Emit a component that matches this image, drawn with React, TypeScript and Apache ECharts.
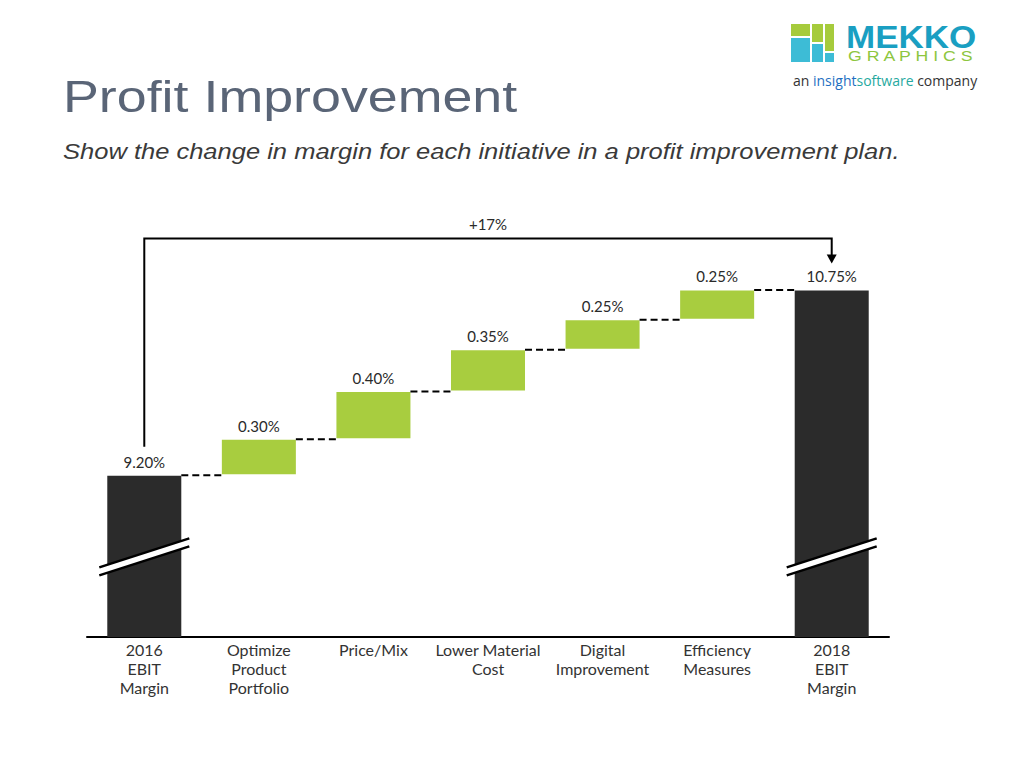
import React, { useEffect, useRef } from "react";
import * as echarts from "echarts";

// ---------- data ----------
const categories = [
  "2016\nEBIT\nMargin",
  "Optimize\nProduct\nPortfolio",
  "Price/Mix",
  "Lower Material\nCost",
  "Digital\nImprovement",
  "Efficiency\nMeasures",
  "2018\nEBIT\nMargin",
];
const startValue = 9.2;
const deltas = [0.3, 0.4, 0.35, 0.25, 0.25];
const endValue = 10.75;
const valueLabels = ["9.20%", "0.30%", "0.40%", "0.35%", "0.25%", "0.25%", "10.75%"];
const axisMin = 7.85;
const axisMax = 12;
const breakValue = 8.52;

const DARK = "#2b2b2b";
const GREEN = "#a8cd3f";
const FONT = "Lato";

export default function App() {
  const ref = useRef<HTMLDivElement>(null);

  useEffect(() => {
    document.body.style.margin = "0";
    if (!ref.current) return;
    const chart = echarts.init(ref.current, null, { renderer: "svg" });

    // build waterfall rows: [index, low, high, kind]
    const rows: any[] = [];
    rows.push([0, axisMin, startValue, 0]);
    let level = startValue;
    deltas.forEach((d, i) => {
      rows.push([i + 1, level, level + d, 1]);
      level += d;
    });
    rows.push([categories.length - 1, axisMin, endValue, 0]);

    const connectors = rows.slice(0, rows.length - 1).map((r) => [r[0], r[2]]);
    const breaks = [
      [0, breakValue],
      [categories.length - 1, breakValue],
    ];
    const pct = Math.round(((endValue - startValue) / startValue) * 100);
    const changeLabel = "+" + pct + "%";

    const barW = (api: any) => api.size([1, 0])[0] * 0.646;

    chart.setOption({
      animation: false,
      grid: { left: 87, right: 135, top: 141, bottom: 131 },
      xAxis: {
        type: "category",
        data: categories,
        axisLine: { lineStyle: { color: "#000", width: 2 } },
        axisTick: { show: false },
        axisLabel: {
          color: "#333",
          fontFamily: FONT,
          fontSize: 16,
          lineHeight: 19,
          margin: 3,
          interval: 0,
        },
      },
      yAxis: {
        type: "value",
        min: axisMin,
        max: axisMax,
        show: false,
        splitLine: { show: false },
      },
      series: [
        {
          type: "custom",
          data: rows,
          z: 2,
          renderItem: (params: any, api: any) => {
            const idx = api.value(0);
            const lo = api.value(1);
            const hi = api.value(2);
            const kind = api.value(3);
            const pTop = api.coord([idx, hi]);
            const pBot = api.coord([idx, lo]);
            const w = barW(api);
            const bottom = kind === 1 ? pBot[1] - 1.5 : pBot[1];
            return {
              type: "group",
              children: [
                {
                  type: "rect",
                  shape: { x: pTop[0] - w / 2, y: pTop[1], width: w, height: bottom - pTop[1] },
                  style: { fill: kind === 1 ? GREEN : DARK },
                },
                {
                  type: "text",
                  x: pTop[0],
                  y: pTop[1] - 14,
                  style: {
                    text: valueLabels[params.dataIndex],
                    fill: "#2a2a2a",
                    font: `15px ${FONT}`,
                    align: "center",
                    verticalAlign: "middle",
                  },
                },
              ],
            };
          },
        },
        {
          type: "custom",
          data: connectors,
          z: 3,
          renderItem: (params: any, api: any) => {
            const idx = api.value(0);
            const v = api.value(1);
            const p = api.coord([idx, v]);
            const band = api.size([1, 0])[0];
            const w = barW(api);
            return {
              type: "line",
              shape: { x1: p[0] + w / 2, y1: p[1] - 0.5, x2: p[0] + band - w / 2, y2: p[1] - 0.5 },
              style: { stroke: "#000", lineWidth: 2, lineDash: [7, 4] },
            };
          },
        },
        {
          type: "custom",
          data: breaks,
          z: 4,
          renderItem: (params: any, api: any) => {
            const idx = api.value(0);
            const v = api.value(1);
            const p = api.coord([idx, v]);
            const cx = p[0];
            const cy = p[1];
            const hw = 45;
            const rise = 14.5;
            const gap = 4;
            return {
              type: "group",
              children: [
                {
                  type: "polygon",
                  shape: {
                    points: [
                      [cx - hw, cy - gap + rise],
                      [cx + hw, cy - gap - rise],
                      [cx + hw, cy + gap - rise],
                      [cx - hw, cy + gap + rise],
                    ],
                  },
                  style: { fill: "#fff" },
                },
                {
                  type: "line",
                  shape: { x1: cx - hw, y1: cy - gap + rise, x2: cx + hw, y2: cy - gap - rise },
                  style: { stroke: "#000", lineWidth: 2.5 },
                },
                {
                  type: "line",
                  shape: { x1: cx - hw, y1: cy + gap + rise, x2: cx + hw, y2: cy + gap - rise },
                  style: { stroke: "#000", lineWidth: 2.5 },
                },
              ],
            };
          },
        },
        {
          type: "custom",
          data: [[0, categories.length - 1, startValue, endValue]],
          z: 5,
          renderItem: (params: any, api: any) => {
            const p0 = api.coord([api.value(0), api.value(2)]);
            const p1 = api.coord([api.value(1), api.value(3)]);
            const yTop = p1[1] - 52;
            const tip = p1[1] - 27;
            return {
              type: "group",
              children: [
                {
                  type: "polyline",
                  shape: {
                    points: [
                      [p0[0], p0[1] - 29],
                      [p0[0], yTop],
                      [p1[0], yTop],
                      [p1[0], tip - 8],
                    ],
                  },
                  style: { stroke: "#000", lineWidth: 2, fill: "none" },
                },
                {
                  type: "polygon",
                  shape: {
                    points: [
                      [p1[0] - 5, tip - 9],
                      [p1[0] + 5, tip - 9],
                      [p1[0], tip],
                    ],
                  },
                  style: { fill: "#000" },
                },
                {
                  type: "text",
                  x: (p0[0] + p1[0]) / 2,
                  y: yTop - 14,
                  style: {
                    text: changeLabel,
                    fill: "#2a2a2a",
                    font: `15px ${FONT}`,
                    align: "center",
                    verticalAlign: "middle",
                  },
                },
              ],
            };
          },
        },
      ],
      graphic: [
        {
          type: "text",
          left: 63,
          top: 74,
          style: {
            text: "Profit Improvement",
            fill: "#5a6577",
            font: "45px 'Liberation Sans'",
          },
          scaleX: 1.195,
        },
        {
          type: "text",
          left: 63,
          top: 140,
          style: {
            text: "Show the change in margin for each initiative in a profit improvement plan.",
            fill: "#3a3a3a",
            font: "italic 22px 'Liberation Sans'",
          },
          scaleX: 1.16,
        },
        // logo mark
        { type: "rect", shape: { x: 791, y: 24, width: 19, height: 12 }, style: { fill: "#a6cb3c" } },
        { type: "rect", shape: { x: 812, y: 24, width: 11, height: 18 }, style: { fill: "#a6cb3c" } },
        { type: "rect", shape: { x: 825, y: 24, width: 9, height: 27 }, style: { fill: "#a6cb3c" } },
        { type: "rect", shape: { x: 791, y: 38, width: 19, height: 24 }, style: { fill: "#3dbcd6" } },
        { type: "rect", shape: { x: 812, y: 44, width: 11, height: 18 }, style: { fill: "#3dbcd6" } },
        { type: "rect", shape: { x: 825, y: 53, width: 9, height: 9 }, style: { fill: "#3dbcd6" } },
        {
          type: "text",
          left: 846,
          top: 22,
          scaleX: 1.13,
          style: { text: "MEKKO", fill: "#1a9fc2", font: "bold 31px 'Liberation Sans'" },
        },
        {
          type: "text",
          left: 848,
          top: 48,
          style: { text: "G R A P H I C S", fill: "#8dc63f", font: "15px 'Liberation Sans'" },
          scaleX: 1.18,
        },
        {
          type: "text",
          left: 793,
          top: 73,
          style: {
            text: "{a|an }{b|insight}{c|software}{a| company}",
            rich: {
              a: { fill: "#333", font: "14px 'Open Sans'" },
              b: { fill: "#1d6fc2", font: "14px 'Open Sans'" },
              c: { fill: "#27a9a0", font: "14px 'Open Sans'" },
            },
          },
        },
      ],
    });

    return () => chart.dispose();
  }, []);

  return <div ref={ref} style={{ width: 1024, height: 768 }} />;
}
